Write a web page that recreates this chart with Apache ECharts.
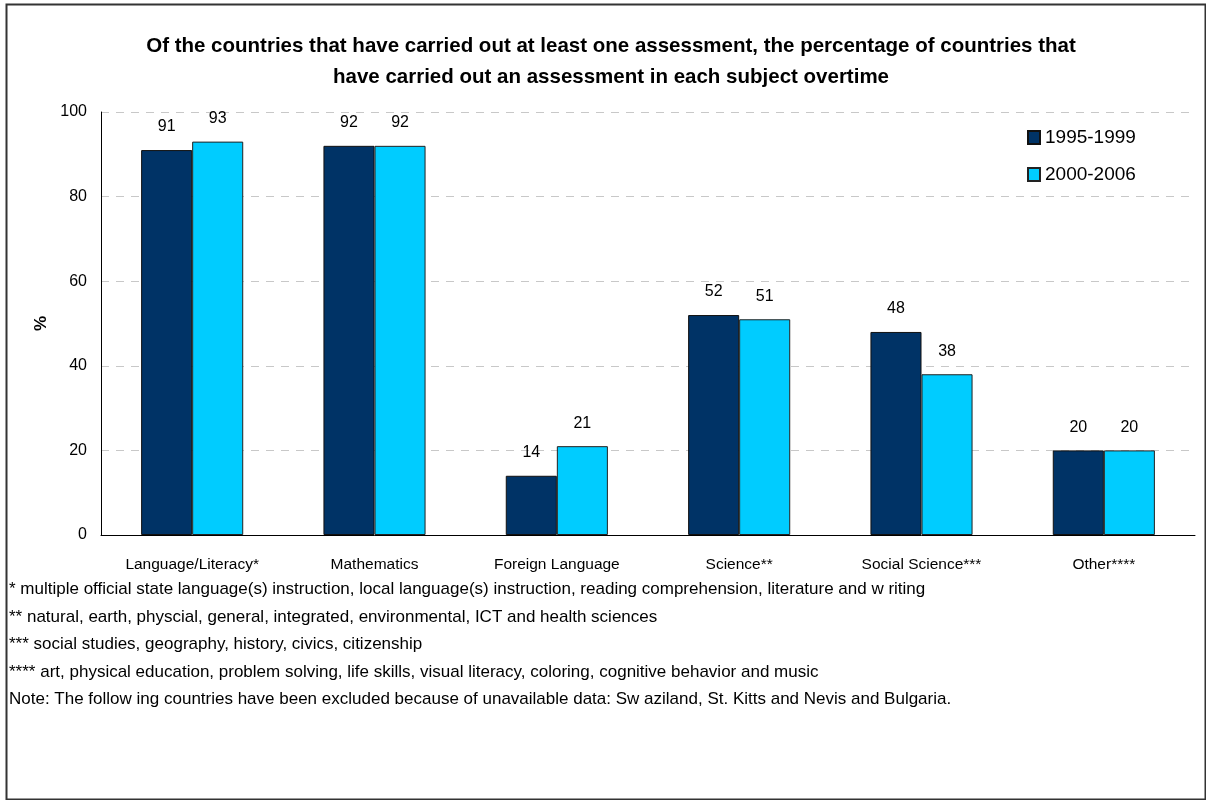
<!DOCTYPE html>
<html>
<head>
<meta charset="utf-8">
<script src="https://cdn.jsdelivr.net/npm/echarts@6/dist/echarts.min.js"></script>
<style>
  html, body { margin: 0; padding: 0; background: #fff; }
  #chart { width: 1206px; height: 800px; }
</style>
</head>
<body>
<div id="chart"></div>
<script>
// Subjects assessed and share of countries (%) in each period
const categories = ['Language/Literacy*', 'Mathematics', 'Foreign Language', 'Science**', 'Social Science***', 'Other****'];
const period1 = [91, 92, 14, 52, 48, 20];   // 1995-1999
const period2 = [93, 92, 21, 51, 38, 20];   // 2000-2006
const seriesNames = ['1995-1999', '2000-2006'];
const yTicks = [0, 20, 40, 60, 80, 100];

const footnotes = [
  '* multiple official state language(s) instruction, local language(s) instruction, reading comprehension, literature and w riting',
  '** natural, earth, physcial, general, integrated, environmental, ICT and health sciences',
  '*** social studies, geography, history, civics, citizenship',
  '**** art, physical education, problem solving, life skills, visual literacy, coloring, cognitive behavior and music',
  'Note: The follow ing countries have been excluded because of unavailable data: Sw aziland, St. Kitts and Nevis and Bulgaria.'
];

const FONT = '"Liberation Sans", Arial, sans-serif';
const chart = echarts.init(document.getElementById('chart'));

const labelStyle = {
  show: true, position: 'top', distance: 15,
  color: '#000', fontSize: 16, fontFamily: FONT
};

chart.setOption({
  animation: false,
  backgroundColor: '#fff',
  textStyle: { fontFamily: FONT },
  title: {
    text: 'Of the countries that have carried out at least one assessment, the percentage of countries that\nhave carried out an assessment in each subject overtime',
    left: 606, top: 26, textAlign: 'center',
    textStyle: { fontSize: 20.5, fontWeight: 'bold', color: '#000', lineHeight: 31, fontFamily: FONT }
  },
  legend: {
    orient: 'vertical', left: 1022, top: 123,
    itemWidth: 12, itemHeight: 13, itemGap: 18,
    icon: 'rect',
    textStyle: { fontSize: 19, color: '#000', fontFamily: FONT },
    data: seriesNames
  },
  grid: { left: 101, right: 11, top: 112, bottom: 265, containLabel: false },
  xAxis: {
    type: 'category', data: categories,
    axisLine: { lineStyle: { color: '#000', width: 1 } },
    axisTick: { show: false },
    axisLabel: { color: '#000', fontSize: 15.5, margin: 22, fontFamily: FONT }
  },
  yAxis: {
    type: 'value', min: yTicks[0], max: yTicks[yTicks.length - 1], interval: 20,
    name: '%', nameLocation: 'middle', nameGap: 48, nameRotate: 90,
    nameTextStyle: { fontSize: 17, fontWeight: 'bold', color: '#000', fontFamily: FONT },
    axisLine: { show: true, lineStyle: { color: '#000', width: 1 } },
    axisTick: { show: false },
    axisLabel: { color: '#000', fontSize: 16, margin: 14, fontFamily: FONT },
    splitLine: { show: true, lineStyle: { color: '#c8c8c8', type: [8, 7], width: 1 } }
  },
  series: [
    {
      name: seriesNames[0], type: 'bar', data: period1,
      barGap: '0%', barCategoryGap: '44%',
      itemStyle: { color: '#003366', borderColor: '#111', borderWidth: 1 },
      label: labelStyle
    },
    {
      name: seriesNames[1], type: 'bar', data: period2,
      itemStyle: { color: '#00CCFF', borderColor: '#222', borderWidth: 1 },
      label: labelStyle
    }
  ],
  graphic: [
    {
      type: 'rect', left: 4, top: 2, z: -1,
      shape: { width: 1199, height: 795 },
      style: { fill: 'none', stroke: '#333', lineWidth: 2 }
    }
  ].concat(footnotes.map((t, i) => ({
    type: 'text', left: 9, top: 581 + i * 27.5,
    style: { text: t, fontSize: 17, fill: '#000', fontFamily: FONT }
  })))
});
</script>
</body>
</html>
